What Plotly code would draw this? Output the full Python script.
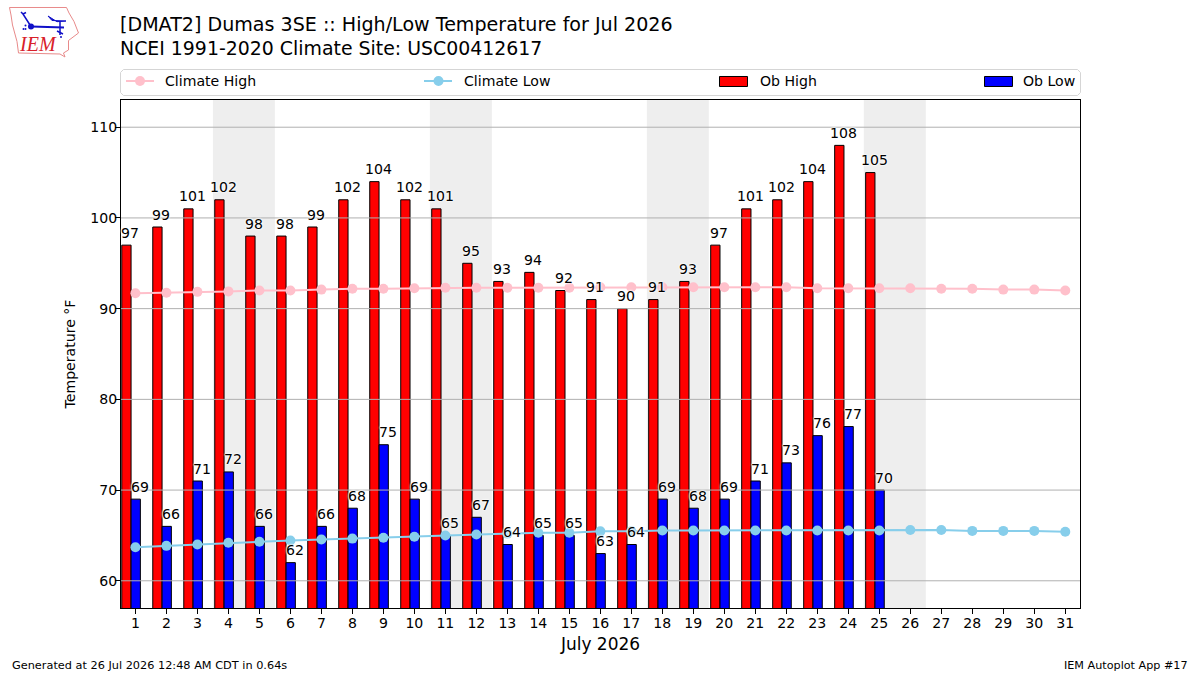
import plotly.graph_objects as go

# Daily observations for the month, reported through the 25th
days = list(range(1, 32))
obs_days = list(range(1, 26))
ob_high = [97, 99, 101, 102, 98, 98, 99, 102, 104, 102, 101, 95, 93, 94, 92, 91, 90, 91, 93, 97,
           101, 102, 104, 108, 105]
ob_low = [69, 66, 71, 72, 66, 62, 66, 68, 75, 69, 65, 67, 64, 65, 65, 63, 64, 69, 68, 69,
          71, 73, 76, 77, 70]

# 1991-2020 daily climatology
climate_high = [91.7, 91.75, 91.85, 91.9, 92.0, 92.0, 92.1, 92.2, 92.2, 92.25, 92.3, 92.3, 92.3, 92.3, 92.3,
                92.35, 92.35, 92.35, 92.35, 92.35, 92.35, 92.35, 92.25, 92.25, 92.25, 92.25,
                92.2, 92.2, 92.1, 92.1, 92.0]
climate_low = [63.7, 63.85, 64.0, 64.2, 64.3, 64.45, 64.55, 64.65, 64.75, 64.85, 65.0, 65.1, 65.2, 65.3, 65.3,
               65.45, 65.45, 65.55, 65.55, 65.55, 65.55, 65.55, 65.55, 65.55, 65.55, 65.6,
               65.6, 65.5, 65.5, 65.5, 65.4]

weekend_starts = [4, 11, 18, 25]
y_ticks = [60, 70, 80, 90, 100, 110]

title_lines = ["[DMAT2] Dumas 3SE :: High/Low Temperature for Jul 2026",
               "NCEI 1991-2020 Climate Site: USC00412617"]
FONT = "DejaVu Sans"
W, H = 1200, 675
L, R, T, B = 121, 1080, 100, 608
BAR_W = 0.3
BAR_NUDGE = 0.01
TEXT_SIZE = 14.1
LOGO_BLUE = "#1010c8"


def px(x, y):
    """Convert canvas pixels to paper coordinates of the plot area."""
    return (x - L) / (R - L), (B - y) / (B - T)


def path(points, close=False):
    parts = []
    for i, (x, y) in enumerate(points):
        u, v = px(x, y)
        parts.append(f"{'M' if i == 0 else 'L'}{u:.5f},{v:.5f}")
    return " ".join(parts) + (" Z" if close else "")


def paper_shape(points, close=False, line=None, width=1, fill=None):
    return dict(type="path", xref="paper", yref="paper", path=path(points, close), layer="above",
                line=dict(color=line or "rgba(0,0,0,0)", width=width), fillcolor=fill or "rgba(0,0,0,0)")


def paper_rect(x0, y0, x1, y1, line=None, width=1, fill=None):
    return paper_shape([(x0, y0), (x1, y0), (x1, y1), (x0, y1)], True, line, width, fill)


def paper_dot(cx, cy, d, fill):
    a0, b0 = px(cx - d / 2, cy + d / 2)
    a1, b1 = px(cx + d / 2, cy - d / 2)
    return dict(type="circle", xref="paper", yref="paper", x0=a0, y0=b0, x1=a1, y1=b1, layer="above",
                line=dict(width=0), fillcolor=fill)


def paper_text(x, y, text, size, color="black", anchor="left", family=FONT):
    # Annotations carry about 2px of inner padding; take it back out at the anchored edge
    pad = {"left": -2, "right": 2, "center": 0}[anchor]
    u, v = px(x + pad, y)
    return dict(x=u, y=v, xref="paper", yref="paper", text=text, showarrow=False, xanchor=anchor,
                yanchor="middle", font=dict(family=family, size=size, color=color))


fig = go.Figure()
fig.add_bar(x=obs_days, y=ob_high, name="Ob High", width=BAR_W, offset=-1.5 * BAR_W + BAR_NUDGE,
            marker=dict(color="red", line=dict(color="black", width=1)))
fig.add_bar(x=obs_days, y=ob_low, name="Ob Low", width=BAR_W, offset=-0.5 * BAR_W + BAR_NUDGE,
            marker=dict(color="blue", line=dict(color="black", width=1)))
fig.add_scatter(x=days, y=climate_high, name="Climate High", mode="lines+markers",
                line=dict(color="pink", width=2), marker=dict(color="pink", size=10))
fig.add_scatter(x=days, y=climate_low, name="Climate Low", mode="lines+markers",
                line=dict(color="skyblue", width=2), marker=dict(color="skyblue", size=10))

shapes = []
# Weekend bands sit behind everything else
for d in weekend_starts:
    shapes.append(dict(type="rect", xref="x", yref="paper", x0=d - 0.5, x1=d + 1.5, y0=0, y1=1,
                       layer="below", line=dict(width=0), fillcolor="#eeeeee"))
# Grid lines run over the bars
for v in y_ticks:
    shapes.append(dict(type="line", xref="paper", yref="y", x0=0, x1=1, y0=v, y1=v, layer="above",
                       line=dict(color="#b0b0b0", width=1)))

# Legend strip above the axes
frame_l, frame_r, frame_t, frame_b, rad = 120.5, 1080.5, 69.5, 95.5, 3
shapes.append(paper_shape([(frame_l + rad, frame_t), (frame_r - rad, frame_t), (frame_r, frame_t + rad),
                           (frame_r, frame_b - rad), (frame_r - rad, frame_b), (frame_l + rad, frame_b),
                           (frame_l, frame_b - rad), (frame_l, frame_t + rad)], True, "#d5d5d5", 1, "white"))
shapes.append(paper_shape([(126, 81), (154, 81)], line="pink", width=2))
shapes.append(paper_dot(140, 81, 10, "pink"))
shapes.append(paper_shape([(424, 81), (452, 81)], line="skyblue", width=2))
shapes.append(paper_dot(438.5, 81, 10, "skyblue"))
shapes.append(paper_rect(719.5, 76.5, 747.5, 86.5, "black", 1, "red"))
shapes.append(paper_rect(984.5, 76.5, 1012.5, 86.5, "black", 1, "blue"))

# Logo: state outline with a small station symbol
shapes.append(paper_shape([(9.5, 7.5), (66.5, 7.5), (69, 13), (74, 21.5), (78.5, 33), (68.5, 40.5), (68.5, 50),
                           (63.5, 53), (65, 57), (60, 54), (18.5, 53), (17, 41.5), (12.5, 25), (11, 15)],
                          True, "#e88a8a", 1))
shapes.append(paper_shape([(31, 26.5), (64, 27.5)], line=LOGO_BLUE, width=2))
shapes.append(paper_shape([(31, 26.5), (23, 14), (21, 12)], line=LOGO_BLUE, width=1.5))
shapes.append(paper_shape([(23, 14), (26, 12.5)], line=LOGO_BLUE, width=1.5))
shapes.append(paper_shape([(48, 16), (57, 21.7), (66, 21), (52, 20.5)], True, line=LOGO_BLUE, width=1, fill=LOGO_BLUE))
shapes.append(paper_shape([(60, 21.5), (60, 35)], line=LOGO_BLUE, width=1.5))
shapes.append(paper_shape([(57, 31), (63, 34)], line=LOGO_BLUE, width=1.5))
shapes.append(paper_dot(31, 26.5, 6, LOGO_BLUE))
shapes.append(paper_dot(23.5, 29, 2, LOGO_BLUE))
shapes.append(paper_dot(25.5, 25.5, 2, LOGO_BLUE))
shapes.append(paper_dot(25.5, 29, 2, LOGO_BLUE))
shapes.append(paper_dot(61, 37, 2, LOGO_BLUE))

annotations = []
# Value labels with a white halo, nudged right of their bars
halo = "white 0 0 2px, white 0 0 2px, white 0 0 3px"
for xs, ys, shift in ((obs_days, ob_high, -BAR_W), (obs_days, ob_low, 0)):
    for d, v in zip(xs, ys):
        annotations.append(dict(x=d + shift + BAR_NUDGE, y=v, xref="x", yref="y", text=str(v), showarrow=False,
                                xanchor="center", yanchor="bottom", xshift=4, yshift=3.5, borderpad=0,
                                font=dict(family=FONT, size=TEXT_SIZE, color="black", shadow=halo)))

annotations += [
    paper_text(165, 81, "Climate High", TEXT_SIZE),
    paper_text(464, 81, "Climate Low", TEXT_SIZE),
    paper_text(760, 81, "Ob High", TEXT_SIZE),
    paper_text(1023, 81, "Ob Low", TEXT_SIZE),
    paper_text(120, 24, title_lines[0], 19.08),
    paper_text(120, 48, title_lines[1], 18.9),
    paper_text(12, 665, "Generated at 26 Jul 2026 12:48 AM CDT in 0.64s", 11.3),
    paper_text(1188, 665, "IEM Autoplot App #17", 11.2, anchor="right"),
    paper_text(37.5, 44, "<i>IEM</i>", 20, color="#d8202a", anchor="center", family="Liberation Serif"),
]

fig.update_layout(
    width=W, height=H, autosize=False, showlegend=False, barmode="overlay",
    margin=dict(l=L, r=W - R, t=T, b=H - B, pad=0),
    paper_bgcolor="white", plot_bgcolor="white",
    font=dict(family=FONT, size=TEXT_SIZE, color="black"),
    shapes=shapes, annotations=annotations,
    xaxis=dict(range=[0.535, 31.475], tickmode="array", tickvals=days, ticktext=[str(d) for d in days],
               ticks="outside", ticklen=5, tickwidth=1, tickcolor="black", showgrid=False, zeroline=False,
               showline=True, linecolor="black", linewidth=1, mirror=True, ticklabelstandoff=-3,
               tickfont=dict(family=FONT, size=TEXT_SIZE),
               title=dict(text="July 2026", font=dict(family=FONT, size=17), standoff=8)),
    yaxis=dict(range=[57, 113], tickmode="array", tickvals=y_ticks, ticks="outside", ticklen=5, tickwidth=1,
               tickcolor="black", showgrid=False, zeroline=False,
               showline=True, linecolor="black", linewidth=1, mirror=True, ticklabelstandoff=-5,
               tickfont=dict(family=FONT, size=TEXT_SIZE),
               title=dict(text="Temperature °F", font=dict(family=FONT, size=TEXT_SIZE), standoff=11)),
)

fig.write_html("out.html")
